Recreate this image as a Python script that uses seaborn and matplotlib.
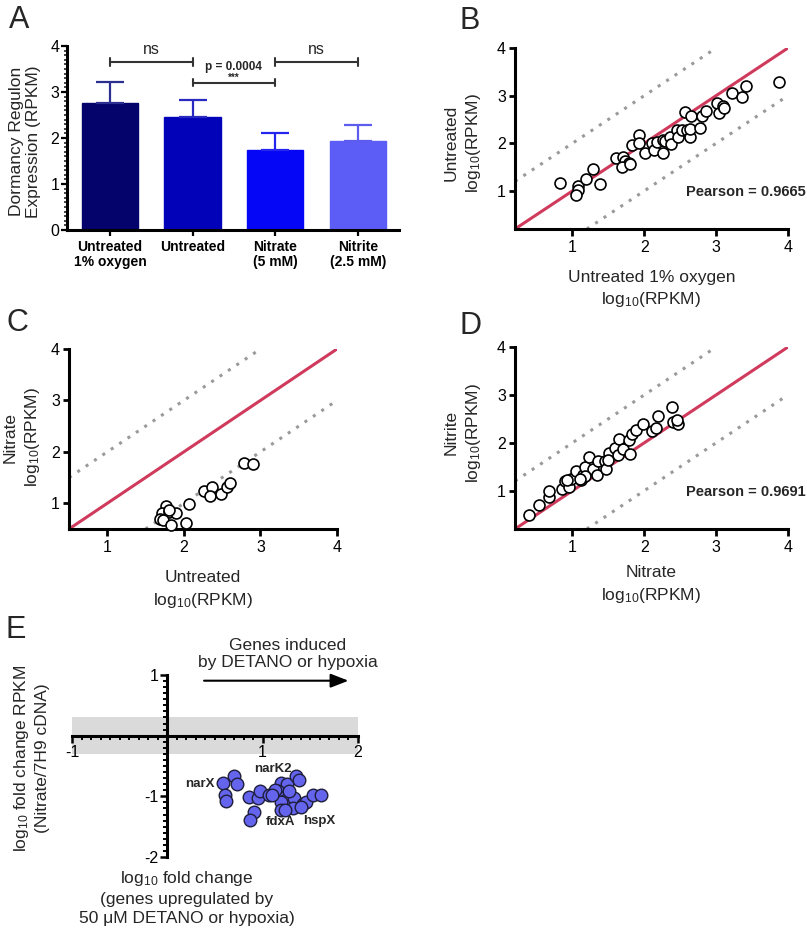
"""Five-panel figure: dormancy regulon bars, RPKM scatter comparisons and fold-change plot."""

import matplotlib

matplotlib.use("Agg")

import matplotlib.pyplot as plt
import numpy as np
import seaborn as sns
from matplotlib.ticker import FixedLocator, FuncFormatter, MultipleLocator

# ---- panel A: dormancy regulon expression ----
A_LABELS = ["Untreated\n1% oxygen", "Untreated", "Nitrate\n(5 mM)", "Nitrite\n(2.5 mM)"]
A_MEANS = [2.76, 2.46, 1.74, 1.93]
A_SEM = [0.46, 0.37, 0.37, 0.35]
A_COLORS = ["#03036B", "#0202B8", "#0606F6", "#5C5CF6"]
A_ERR_COLORS = ["#2B2F8F", "#2A2AC0", "#2525F0", "#5C5CEE"]
A_BRACKETS = [(0, 1, 3.65, "ns"), (1, 2, 3.20, "p = 0.0004"), (2, 3, 3.65, "ns")]

# ---- panel B: untreated 1% oxygen vs untreated ----
B_X = [0.83, 1.07, 1.08, 1.05, 1.19, 1.28, 1.39, 1.61, 1.70, 1.73, 1.79, 1.69, 1.80, 1.83, 1.93,
       1.93, 2.01, 2.10, 2.14, 2.17, 2.26, 2.26, 2.29, 2.36, 2.37, 2.45, 2.47, 2.52, 2.56, 2.59,
       2.63, 2.64, 2.65, 2.78, 2.80, 2.86, 3.01, 3.04, 3.10, 3.11, 3.22, 3.36, 3.42, 3.87]
B_Y = [1.16, 1.10, 1.02, 0.92, 1.25, 1.46, 1.14, 1.69, 1.71, 1.62, 1.58, 1.50, 1.56, 1.97, 2.18,
       2.00, 1.79, 2.01, 1.85, 2.03, 2.07, 1.79, 2.05, 2.13, 1.99, 2.28, 2.13, 2.27, 2.65, 2.28,
       2.14, 2.29, 2.58, 2.33, 2.57, 2.68, 2.84, 2.63, 2.78, 2.73, 3.06, 2.97, 3.20, 3.29]
B_PEARSON = 0.9665

# ---- panel C: untreated vs nitrate ----
C_X = [2.79, 2.90, 2.26, 2.37, 2.34, 2.48, 2.56, 2.60, 2.07, 1.77, 1.72, 1.81, 1.90, 1.81, 1.69,
       1.73, 1.83, 2.03]
C_Y = [1.79, 1.76, 1.24, 1.32, 1.14, 1.19, 1.31, 1.39, 0.99, 0.94, 0.81, 0.83, 0.82, 0.87, 0.70,
       0.68, 0.58, 0.61]

# ---- panel D: nitrate vs nitrite ----
D_X = [0.39, 0.54, 0.68, 0.68, 0.86, 0.89, 0.95, 0.98, 1.05, 1.12, 1.14, 1.17, 1.23, 1.28, 1.34,
       1.35, 1.45, 1.47, 1.51, 1.59, 1.65, 1.63, 1.70, 1.79, 1.80, 1.83, 1.88, 1.98, 2.10, 2.16,
       2.19, 2.38, 2.40, 2.47, 2.45, 1.18, 0.92, 1.10, 1.49]
D_Y = [0.49, 0.71, 0.87, 1.00, 1.04, 1.20, 1.07, 1.25, 1.42, 1.22, 1.32, 1.49, 1.70, 1.46, 1.32,
       1.63, 1.63, 1.46, 1.78, 1.90, 2.07, 1.74, 1.88, 2.05, 1.77, 2.19, 2.26, 2.40, 2.25, 2.30,
       2.56, 2.75, 2.44, 2.40, 2.48, 1.30, 1.22, 1.24, 1.65]
D_PEARSON = 0.9691

# ---- panel E: fold change of DETANO/hypoxia-induced genes ----
E_X = [0.70, 0.58, 0.73, 0.60, 0.62, 0.86, 0.95, 0.97, 1.07, 0.91, 0.87, 1.19, 1.25, 1.35, 1.38,
       1.16, 1.23, 1.24, 1.19, 1.33, 1.42, 1.45, 1.53, 1.61, 1.19, 1.32, 1.40, 1.28, 1.13, 1.10, 1.23]
E_Y = [-0.66, -0.78, -0.80, -0.98, -1.07, -1.01, -1.03, -0.92, -0.98, -1.25, -1.39, -0.78, -0.80,
       -0.66, -0.73, -0.92, -1.01, -1.06, -1.09, -1.03, -1.12, -1.09, -0.98, -0.98, -1.22, -1.20,
       -1.17, -0.92, -0.90, -0.98, -1.23]
E_GENES = ["narX", "narK2", "fdxA", "hspX"]
E_GENE_X = [0.34, 1.11, 1.19, 1.59]
E_GENE_Y = [-0.80, -0.55, -1.43, -1.40]
E_BAND = (-0.3, 0.3)

W, H = 807, 934
RED = "#D03A5C"
GREY = "#9A9A9A"
LOG_LABEL = "log$_{10}$(RPKM)"


def px_axes(fig, left, top, right, bottom):
    return fig.add_axes([left / W, 1 - bottom / H, (right - left) / W, (bottom - top) / H])


def style_axes(ax):
    for side in ("top", "right"):
        ax.spines[side].set_visible(False)
    for side in ("left", "bottom"):
        ax.spines[side].set_linewidth(2.2)
        ax.spines[side].set_color("black")
    ax.tick_params(which="major", direction="out", bottom=True, left=True, length=4, width=2,
                   labelsize=11.5, pad=2.5, colors="black")


def panel_letter(fig, letter, x, y):
    fig.text(x / W, 1 - y / H, letter, fontsize=22, va="top", ha="left")


def scatter_panel(ax, xs, ys, lo, ylabel, xlabel, ylab_pos, xlab_y, pearson=None):
    style_axes(ax)
    line_x = np.array([lo, 4.0])
    ax.plot(line_x, line_x, color=RED, lw=2.2, zorder=2, solid_capstyle="butt")
    for offset in (1, -1):
        seg = np.array([lo, 4.0 - offset]) if offset > 0 else np.array([lo - offset, 4.0])
        ax.plot(seg, seg + offset, color=GREY, lw=2.2, linestyle=(0, (1, 2.3)), zorder=1)
    sns.scatterplot(x=xs, y=ys, s=62, color="white", edgecolor="black", linewidth=1.2,
                    zorder=3, ax=ax, clip_on=False)
    ax.set_xlim(lo, 4)
    ax.set_ylim(lo, 4)
    ax.set_xticks([1, 2, 3, 4])
    ax.set_yticks([1, 2, 3, 4])
    ax.tick_params(axis="x", length=5, pad=3)
    ax.text(ylab_pos[0], ylab_pos[1], ylabel, rotation=90, ha="center", va="center",
            fontsize=12.5, linespacing=1.35, transform=ax.transAxes)
    ax.text(0.5, xlab_y, xlabel, ha="center", va="top", fontsize=12.5, linespacing=1.4,
            transform=ax.transAxes)
    if pearson is not None:
        ax.text(4.25, 0.97, f"Pearson = {pearson}", ha="right", va="center", fontsize=10.5,
                fontweight="bold", clip_on=False)


def main():
    sns.set_theme(style="ticks")
    plt.rcParams["font.family"] = ["Liberation Sans", "DejaVu Sans"]
    plt.rcParams["mathtext.fontset"] = "custom"
    plt.rcParams["mathtext.rm"] = "Liberation Sans"
    plt.rcParams["mathtext.it"] = "Liberation Sans:italic"
    plt.rcParams["axes.unicode_minus"] = False

    fig = plt.figure(figsize=(W / 100, H / 100), dpi=100)
    fig.patch.set_facecolor("white")

    # ---------------- A ----------------
    ax = px_axes(fig, 67, 46, 399, 230)
    style_axes(ax)
    sns.barplot(x=A_LABELS, y=A_MEANS, hue=A_LABELS, palette=A_COLORS, legend=False,
                width=0.68, saturation=1, ax=ax, zorder=2)
    for patch, col in zip(ax.patches, A_COLORS):
        patch.set_edgecolor(col)
        patch.set_linewidth(1.0)
    for i, (m, e) in enumerate(zip(A_MEANS, A_SEM)):
        ax.errorbar(i, m, yerr=[[0], [e]], fmt="none", ecolor=A_ERR_COLORS[i], elinewidth=1.6,
                    capsize=10, capthick=1.6, zorder=3)
    ax.set_xlim(-0.52, 3.5)
    ax.set_ylim(0, 4)
    ax.yaxis.set_major_locator(MultipleLocator(1))
    ax.yaxis.set_minor_locator(MultipleLocator(0.1))
    ax.tick_params(axis="y", which="major", length=4, width=1.6, pad=1.5)
    ax.tick_params(axis="y", which="minor", left=True, length=2.5, width=1.2)
    ax.tick_params(axis="x", length=4, width=1.6, pad=3)
    ax.set_xticks(range(len(A_LABELS)))
    ax.set_xticklabels(A_LABELS, fontweight="bold", fontsize=10, linespacing=1.15)
    ax.set_xlabel("")
    ax.set_ylabel("")
    ax.text(-0.127, 0.48, "Dormancy Regulon\nExpression (RPKM)", rotation=90, ha="center",
            va="center", fontsize=12.5, linespacing=1.2, transform=ax.transAxes)
    for x0, x1, y, label in A_BRACKETS:
        ax.plot([x0, x1], [y, y], color="#333333", lw=1.5, clip_on=False, zorder=4)
        for xe in (x0, x1):
            ax.plot([xe, xe], [y - 0.08, y + 0.08], color="#333333", lw=1.5, clip_on=False)
        xm = (x0 + x1) / 2
        if label == "ns":
            ax.text(xm, y + 0.27, label, ha="center", va="center", fontsize=11.5, clip_on=False)
        else:
            ax.text(xm, y + 0.34, label, ha="center", va="center", fontsize=8.5,
                    fontweight="bold", clip_on=False)
            ax.text(xm, y + 0.11, "***", ha="center", va="center", fontsize=7,
                    fontweight="bold", clip_on=False)
    panel_letter(fig, "A", 9, 5)

    # ---------------- B ----------------
    ax = px_axes(fig, 515, 48, 788, 229)
    scatter_panel(ax, B_X, B_Y, 0.2, "Untreated\n" + LOG_LABEL,
                  "Untreated 1% oxygen\n" + LOG_LABEL, (-0.19, 0.475), -0.225, B_PEARSON)
    panel_letter(fig, "B", 459, 6)

    # ---------------- C ----------------
    ax = px_axes(fig, 69, 349, 337, 529)
    scatter_panel(ax, C_X, C_Y, 0.5, "Nitrate\n" + LOG_LABEL,
                  "Untreated\n" + LOG_LABEL, (-0.175, 0.51), -0.23)
    panel_letter(fig, "C", 6, 308)

    # ---------------- D ----------------
    ax = px_axes(fig, 515, 347, 788, 529)
    scatter_panel(ax, D_X, D_Y, 0.2, "Nitrite\n" + LOG_LABEL,
                  "Nitrate\n" + LOG_LABEL, (-0.19, 0.53), -0.2, D_PEARSON)
    panel_letter(fig, "D", 459, 311)

    # ---------------- E ----------------
    ax = px_axes(fig, 72, 675, 358, 857)
    for side in ("top", "right"):
        ax.spines[side].set_visible(False)
    for side in ("left", "bottom"):
        ax.spines[side].set_linewidth(2.2)
        ax.spines[side].set_color("black")
        ax.spines[side].set_position(("data", 0))
    ax.axhspan(*E_BAND, color="#DADADA", zorder=0, lw=0)
    sns.scatterplot(x=E_X, y=E_Y, s=82, color="#6464EC", edgecolor="#1E1E3C", linewidth=1.0,
                    zorder=3, ax=ax, clip_on=False)
    ax.set_xlim(-1, 2)
    ax.set_ylim(-2, 1)
    ax.xaxis.set_major_locator(FixedLocator([-1, 0, 1, 2]))
    ax.yaxis.set_major_locator(FixedLocator([-2, -1, 0, 1]))
    nonzero = FuncFormatter(lambda v, _: "" if abs(v) < 1e-9 else f"{v:g}")
    ax.xaxis.set_major_formatter(nonzero)
    ax.yaxis.set_major_formatter(nonzero)
    ax.xaxis.set_minor_locator(MultipleLocator(0.1))
    ax.yaxis.set_minor_locator(MultipleLocator(0.1))
    ax.tick_params(which="major", direction="out", bottom=True, left=True, length=5, width=1.8,
                   labelsize=11.5, pad=1.5, colors="black")
    ax.tick_params(which="minor", direction="out", bottom=True, left=True, length=3, width=1.4,
                   colors="black")
    for gene, gx, gy in zip(E_GENES, E_GENE_X, E_GENE_Y):
        ax.text(gx, gy, gene, ha="center", va="center", fontsize=9.5, fontweight="bold")
    ax.annotate("", xy=(1.90, 0.906), xytext=(0.385, 0.906),
                arrowprops=dict(arrowstyle="-|>,head_length=0.9,head_width=0.35", color="black",
                                lw=1.5, shrinkA=0, shrinkB=0))
    ax.text(1.26, 1.34, "Genes induced\nby DETANO or hypoxia", ha="center", va="center",
            fontsize=12.5, linespacing=1.15, clip_on=False)
    ax.text(-0.143, 0.544, "log$_{10}$ fold change RPKM\n(Nitrate/7H9 cDNA)", rotation=90,
            ha="center", va="center", fontsize=12.5, linespacing=1.3, transform=ax.transAxes)
    ax.text(0.40, -0.065, "log$_{10}$ fold change\n(genes upregulated by\n50 \u03bcM DETANO or hypoxia)",
            ha="center", va="top", fontsize=12.5, linespacing=1.35, transform=ax.transAxes)
    panel_letter(fig, "E", 6, 615)

    fig.savefig("out.png", dpi=100, facecolor="white")
    plt.close(fig)


if __name__ == "__main__":
    main()
